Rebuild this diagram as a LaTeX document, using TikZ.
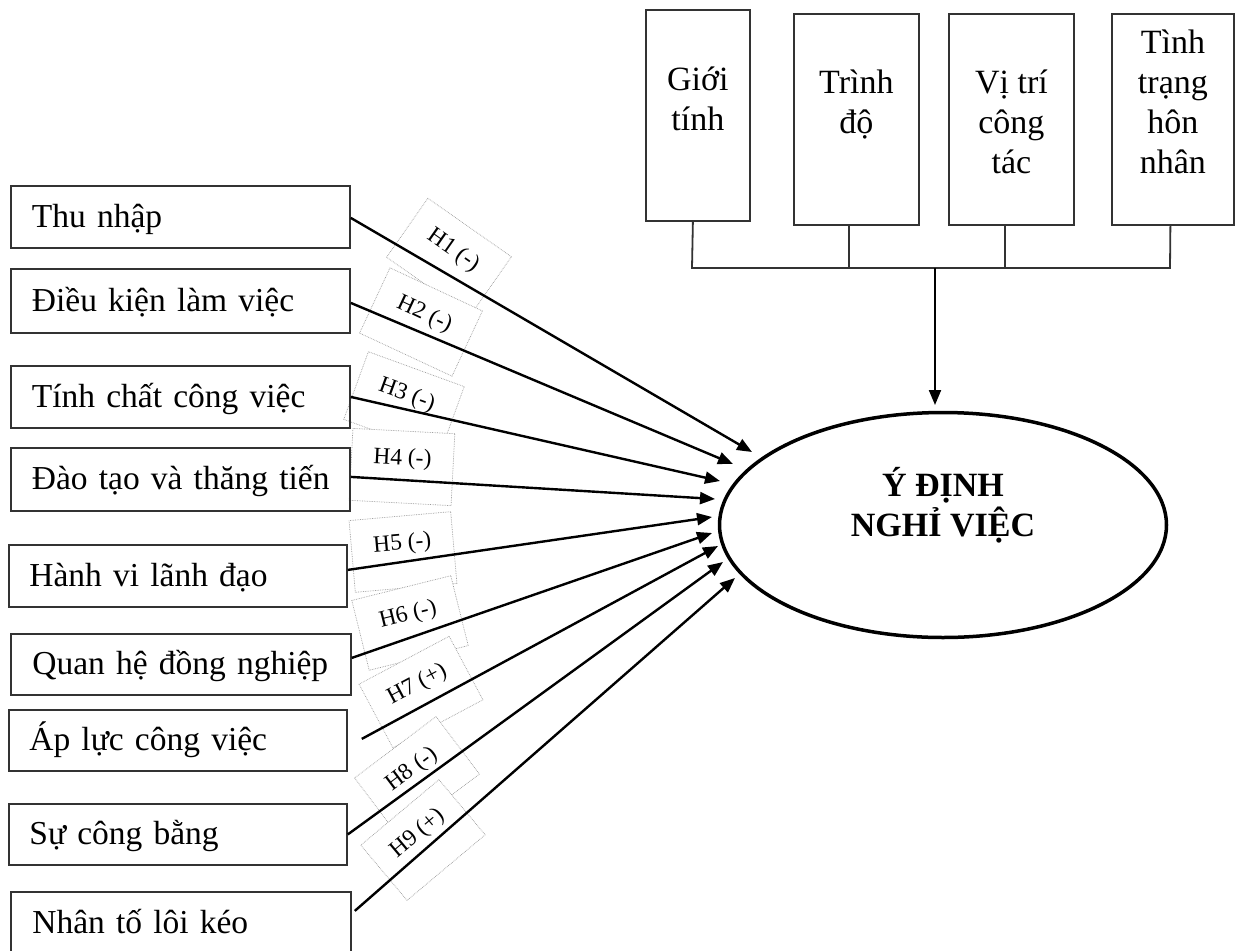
\documentclass[tikz,border=0pt]{standalone}
\usepackage{fontspec}
\setmainfont{Liberation Serif}
\usetikzlibrary{arrows.meta,shapes.geometric,calc}
\newcommand\mainsz{\fontsize{34pt}{40pt}\selectfont}
\newcommand\leftsz{\fontsize{33.5pt}{40pt}\selectfont}
\begin{document}
\begin{tikzpicture}[x=1pt,y=-1pt,
  lbox/.style={draw=black!80, line width=1.8pt, anchor=north west, inner xsep=0pt, inner ysep=0pt,
    text width=297pt, align=left, text height=27pt, text depth=6pt, minimum height=62pt, font=\leftsz},
  tbox/.style={draw=black!80, line width=1.8pt, anchor=north west, inner sep=0pt, align=center,
    minimum height=211pt, font=\mainsz},
  hframe/.style={draw=black!40, densely dotted, line width=0.7pt, fill=white, inner sep=0pt,
    minimum width=102pt, minimum height=72pt},
  htext/.style={inner sep=0pt, font=\fontsize{23.5pt}{28pt}\selectfont},
  arr/.style={line width=2.4pt, -{Triangle[length=15pt,width=12pt]}},
  bus/.style={draw=black!80, line width=1.8pt}
]
\useasboundingbox (0,0) rectangle (1235,951);

% hypothesis label frames (drawn first, under the arrows)
\node[hframe, rotate=-35] (f1) at (449,257) {};
\node[hframe, rotate=-25] (f2) at (421,322) {};
\node[hframe, rotate=-20] (f3) at (404,403) {};
\node[hframe, rotate=-3]  (f4) at (402,467) {};
\node[hframe, rotate=5]   (f5) at (403,552) {};
\node[hframe, rotate=14]  (f6) at (410,623) {};
\node[hframe, rotate=28]  (f7) at (421,692) {};
\node[hframe, rotate=37]  (f8) at (417,776) {};
\node[hframe, rotate=40]  (f9) at (423,840) {};
% hypothesis label texts
\node[htext, rotate=-35] (h1) at ($(f1.center)!8pt!(f1.north)$) {H1 (-)};
\node[htext, rotate=-25] (h2) at ($(f2.center)!8pt!(f2.north)$) {H2 (-)};
\node[htext, rotate=-20] (h3) at ($(f3.center)!8pt!(f3.north)$) {H3 (-)};
\node[htext, rotate=-3]  (h4) at ($(f4.center)!8pt!(f4.north)$) {H4 (-)};
\node[htext, rotate=5]   (h5) at ($(f5.center)!8pt!(f5.north)$) {H5 (-)};
\node[htext, rotate=14]  (h6) at ($(f6.center)!8pt!(f6.north)$) {H6 (-)};
\node[htext, rotate=28]  (h7) at ($(f7.center)!8pt!(f7.north)$) {H7 (+)};
\node[htext, rotate=37]  (h8) at ($(f8.center)!8pt!(f8.north)$) {H8 (-)};
\node[htext, rotate=40]  (h9) at ($(f9.center)!8pt!(f9.north)$) {H9 (+)};

% left factor boxes
\node[lbox, minimum width=339pt] (b1) at (10,185) {\mbox{Thu nhập}};
\node[lbox, minimum width=339pt, minimum height=64pt] (b2) at (10,268) {\mbox{Điều kiện làm việc}};
\node[lbox, minimum width=339pt] (b3) at (10,365) {\mbox{Tính chất công việc}};
\node[lbox, minimum width=339pt, minimum height=63pt] (b4) at (10,447) {\mbox{Đào tạo và thăng tiến}};
\node[lbox, minimum width=338pt] (b5) at (8,544) {\mbox{Hành vi lãnh đạo}};
\node[lbox, minimum width=340pt, minimum height=61pt] (b6) at (10,633) {\mbox{Quan hệ đồng nghiệp}};
\node[lbox, minimum width=338pt, minimum height=61pt] (b7) at (8,709) {\mbox{Áp lực công việc}};
\node[lbox, minimum width=338pt, minimum height=61pt] (b8) at (8,803) {\mbox{Sự công bằng}};
\node[lbox, minimum width=340pt] (b9) at (10,891) {\mbox{Nhân tố lôi kéo}};

% top control boxes
\node[tbox, minimum width=104pt] (g1) at (645,9) {\rule{0pt}{30pt}Giới\\tính\rule[-39pt]{0pt}{39pt}};
\node[tbox, minimum width=125pt] (g2) at (793,13) {\rule{0pt}{30pt}Trình\\độ\rule[-41pt]{0pt}{41pt}};
\node[tbox, minimum width=125pt] (g3) at (948,13) {\rule{0pt}{30pt}Vị trí\\công\\tác\rule[-1pt]{0pt}{1pt}};
\node[tbox, minimum width=122pt] (g4) at (1111,13) {\rule{0pt}{30pt}Tình\\trạng\\hôn\\nhân\rule[-41pt]{0pt}{41pt}};

% outcome ellipse
\node[draw, ellipse, line width=3.5pt, minimum width=447pt, minimum height=225pt, inner sep=0pt,
  align=center, font=\bfseries\mainsz] (ell) at (943,525)
  {\rule{0pt}{32pt}Ý ĐỊNH\\NGHỈ VIỆC\rule[-50pt]{0pt}{50pt}};

% bus from control boxes
\coordinate (busL) at (692,268);
\coordinate (busR) at (1170,268);
\coordinate (busM) at (935,268);
\coordinate (dtip) at (935,405);
\draw[bus] ([xshift=-5pt]g1.south) -- (busL) -- (busR) -- ([xshift=-2.5pt]g4.south);
\draw[bus] ([xshift=-7.5pt]g2.south) -- ([xshift=-7.5pt]g2.south |- busL);
\draw[bus] ([xshift=-6.5pt]g3.south) -- ([xshift=-6.5pt]g3.south |- busL);
\draw[arr, line width=2pt] (busM) -- (dtip);

% arrow tips near the ellipse
\coordinate (t1) at (752,452);
\coordinate (t2) at (733,464);
\coordinate (t3) at (720,481);
\coordinate (t4) at (715,499);
\coordinate (t5) at (712,517);
\coordinate (t6) at (712,533);
\coordinate (t7) at (718,546);
\coordinate (t8) at (723,562);
\coordinate (t9) at (735,578);

\draw[arr] ([yshift=-1pt]b1.east) -- (t1);
\draw[arr] ([yshift=-2pt]b2.east) -- (t2);
\draw[arr] (b3.east) -- (t3);
\draw[arr] ([yshift=2.5pt]b4.east) -- (t4);
\draw[arr] ([yshift=6pt]b5.east) -- (t5);
\draw[arr] ([yshift=6.5pt]b6.east) -- (t6);
\draw[arr] ([xshift=14pt,yshift=1.5pt]b7.east) -- (t7);
\draw[arr] (b8.east) -- (t8);
\draw[arr] ([xshift=3pt,yshift=12pt]b9.east) -- (t9);
\end{tikzpicture}
\end{document}
